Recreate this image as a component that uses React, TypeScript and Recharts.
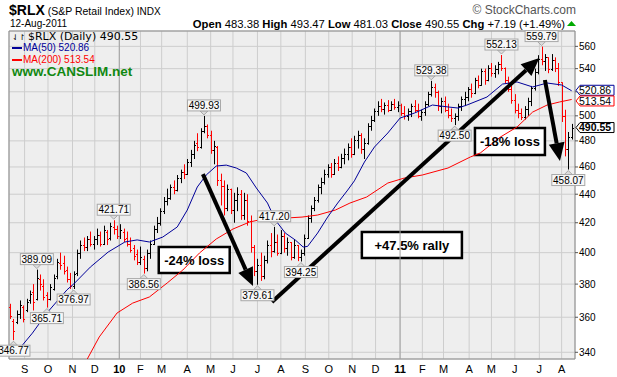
import React from "react";
import {
  ComposedChart,
  Bar,
  Line,
  XAxis,
  YAxis,
  CartesianGrid,
  ReferenceLine,
  ReferenceArea,
  ReferenceDot,
} from "recharts";

// one bar for every 3 sessions, session 0 = 13-Aug-2009
const highs = [
  368, 359, 364, 370, 367, 371, 376, 380, 389.09, 386,
  383, 375, 380, 386, 396, 400, 398, 391, 387, 388,
  402, 408, 410, 411, 414, 411, 416, 414, 418, 415,
  420, 421.71, 418, 419, 416, 414, 410, 405, 402, 404,
  398, 402, 408, 418, 424, 430, 438, 444, 447, 450,
  454, 458, 462, 466, 473, 480, 486, 490, 499.93, 493,
  488, 480, 476, 455, 450, 447, 444, 441, 445, 443,
  441, 440, 425, 405, 396, 400, 398, 408, 413, 417.2,
  412, 415, 413, 410, 407, 409, 405, 402, 412, 425,
  432, 438, 447, 452, 458, 462, 463, 466, 468, 470,
  474, 478, 482, 484, 488, 486, 482, 494, 500, 506,
  512, 514, 511, 513, 512, 514, 512, 510, 508, 506,
  510, 513, 510, 505, 512, 520, 529.38, 527, 521, 515,
  516, 510, 506, 502, 510, 516, 520, 524, 527, 532,
  534, 540, 540, 543, 545, 543, 546, 552.13, 541, 533,
  525, 518, 510, 506, 508, 515, 525, 540, 552, 559.79,
  553, 550, 553, 550, 545, 528, 505, 487, 493.47,
];
const lows = [
  359, 346.77, 356, 359, 357, 363, 368, 364, 370, 376,
  370, 365.71, 370, 376, 383, 389, 386, 381, 377, 376.97,
  385, 396, 401, 401, 404, 402, 405, 404, 405, 405,
  408, 412, 409, 409, 407, 404, 400, 395, 392, 392,
  386.56, 388, 396, 405, 413, 418, 426, 432, 436, 440,
  442, 448, 451, 454, 460, 466, 472, 474, 486, 482,
  470, 462, 446, 432, 425, 428, 426, 420, 428, 422,
  422, 418, 400, 385, 379.61, 382, 383, 393, 397, 400,
  398, 399, 400, 398, 395, 396, 394.5, 394.25, 398, 409,
  420, 428, 434, 440, 447, 452, 452, 454, 457, 459,
  462, 465, 467, 469, 474, 470, 466, 477, 488, 495,
  500, 503, 501, 503, 504, 505, 503, 500, 497, 496,
  499, 503, 498, 496, 500, 508, 516, 515, 504, 502,
  503, 498, 495, 492.5, 496, 504, 508, 512, 515, 518,
  523, 525, 526, 529, 533, 532, 535, 538, 527, 520,
  510, 502, 498, 496.6, 497, 500, 508, 521, 535, 543,
  538, 536, 538, 537, 525, 495, 468, 458.07, 481.03,
];
const opens = [
  366, 358, 357, 362, 366, 364, 370, 375, 371, 383,
  379, 373, 371, 377, 385, 393, 393, 389, 383, 379,
  387, 400, 405, 404, 409, 406, 409, 412, 406, 414,
  410, 417, 416, 411, 414, 410, 406, 403, 399, 394,
  396, 390, 400, 406, 416, 420, 428, 435, 437, 445,
  443, 452, 456, 455, 464, 470, 478, 475, 488, 492,
  485, 473, 475, 450, 446, 430, 444, 429, 436, 440,
  425, 436, 421, 404, 388, 392, 385, 395, 405, 401,
  407, 400, 411, 403, 407, 397, 405, 397, 400, 410,
  423, 430, 436, 445, 449, 455, 460, 455, 463, 460,
  467, 470, 475, 470, 481, 485, 474, 478, 492, 497,
  504, 508, 506, 509, 505, 510, 507, 509, 502, 500,
  504, 508, 505, 500, 503, 510, 518, 524, 520, 508,
  512, 505, 501, 498, 500, 508, 514, 516, 522, 519,
  530, 526, 538, 530, 541, 536, 540, 544, 541, 530,
  522, 513, 505, 502, 499, 506, 512, 523, 537, 549,
  547, 550, 540, 548, 541, 528, 500, 474, 483.38,
];
const closes = [
  361, 352, 362, 367, 359, 369, 374, 369, 384, 380,
  372, 371, 378, 384, 394, 392, 388, 383, 379, 386,
  400, 405, 404, 409, 406, 409, 412, 406, 415, 409,
  418, 416, 411, 415, 409, 406, 402, 398, 394, 397,
  390, 400, 406, 416, 420, 428, 435, 437, 445, 443,
  452, 456, 455, 464, 470, 477, 475, 488, 492, 485,
  473, 476, 450, 446, 430, 444, 429, 436, 440, 425,
  436, 421, 404, 388, 392, 385, 395, 405, 401, 407,
  400, 411, 403, 407, 397, 405, 397, 400, 410, 423,
  430, 436, 445, 449, 455, 460, 455, 463, 460, 467,
  470, 475, 470, 481, 485, 474, 478, 492, 497, 504,
  508, 506, 509, 505, 510, 507, 509, 502, 500, 504,
  508, 505, 500, 503, 510, 518, 524, 520, 508, 512,
  505, 501, 498, 500, 508, 514, 516, 522, 519, 530,
  526, 538, 530, 541, 536, 540, 544, 541, 530, 522,
  513, 505, 502, 499, 506, 512, 523, 537, 549, 547,
  550, 540, 548, 541, 528, 500, 474, 483.36, 490.55,
];

const ma50Days = [
  3, 20, 33, 43, 51, 58, 72, 88, 103, 114, 125, 137, 150, 159, 168, 176,
  185, 194, 203, 212, 221, 231, 238, 247, 256, 263, 267, 276, 285, 294,
  303, 309, 318, 327, 339, 350, 363, 379, 393, 402, 410, 428, 442, 455,
  469, 482, 495, 504,
];
const ma50Values = [
  338, 350.8, 362.5, 370.2, 376.4, 380.7, 390.7, 400.4, 407, 408.4, 407,
  410.3, 417.1, 428.8, 445.2, 454, 460.7, 461.4, 459.2, 455.5, 444.5,
  433.7, 421.9, 413, 408.3, 403.7, 404.1, 413, 423.9, 433.7, 443, 449.7,
  463.7, 475.2, 486.2, 498.2, 502.3, 508.9, 507.3, 506.4, 508.9, 515.6,
  526.6, 528.4, 524.1, 527.5, 525.8, 520.86,
];
const ma200Days = [
  69, 80, 96, 110, 125, 141, 155, 170, 185, 200, 215, 231, 247, 262, 276,
  292, 305, 320, 339, 354, 370, 393, 413, 422, 440, 455, 469, 482, 493, 504,
];
const ma200Values = [
  336, 348.6, 362.5, 368.4, 372.1, 380.7, 388.8, 399.8, 409, 415.7, 420.5,
  423.2, 423.2, 423.9, 425.3, 428.8, 433.7, 438, 448.1, 451.8, 454, 459.2,
  467.5, 470.6, 483, 491, 503.1, 508.9, 511.4, 513.54,
];

const monthDays = [13, 34, 56, 76, 98, 117, 136, 159, 180, 200, 222, 243, 265, 286, 307, 328, 350, 370, 389, 412, 432, 453, 475, 495];
const monthLabels = ["S", "O", "N", "D", "10", "F", "M", "A", "M", "J", "J", "A", "S", "O", "N", "D", "11", "F", "M", "A", "M", "J", "J", "A"];
const yearDays = [98, 350];
const priceTicks = [340, 360, 380, 400, 420, 440, 460, 480, 500, 520, 540, 560];
// the 520 label sits under the MA value tags
const hiddenTickLabels = [520];

const calloutDays = [3, 24, 33, 57, 93, 120, 174, 222, 237, 261, 378, 399, 441, 477, 501];
const calloutValues = [346.77, 389.09, 365.71, 376.97, 421.71, 386.56, 499.93, 379.61, 417.2, 394.25, 529.38, 492.5, 552.13, 559.79, 458.07];
const calloutSides = ["low", "high", "low", "low", "high", "low", "high", "low", "high", "low", "high", "low", "high", "high", "low"];

// hand-drawn annotations, in (session, price)
const arrowFrom = [[173, 454.7], [235, 369.1], [480, 530.1]];
const arrowTo = [[218, 378.8], [475, 549.4], [493.5, 464.5]];
const noteText = ["-24% loss", "+47.5% rally", "-18% loss"];
const noteDays = [[133.4, 197.1], [315.7, 405.5], [417.2, 480]];
const notePrices = [[386.9, 403.7], [396.5, 413.7], [469.1, 490.2]];

const bars = highs.map((h, i) => ({
  day: i * 3,
  range: [lows[i], h],
  high: h,
  low: lows[i],
  open: opens[i],
  close: closes[i],
  up: closes[i] >= (i > 0 ? closes[i - 1] : opens[i]),
}));
const ma50 = ma50Days.map((d, i) => ({ day: d, ma: ma50Values[i] }));
const ma200 = ma200Days.map((d, i) => ({ day: d, ma: ma200Values[i] }));

const FONT = "'Liberation Sans', Arial, sans-serif";

const OhlcBar = (props: any) => {
  const { x, y, width, height, payload } = props;
  if (x == null || y == null || !payload) return null;
  const top = Math.min(y, y + height);
  const h = Math.abs(height);
  const cx = Math.round(x + width / 2) + 0.5;
  const lh = Math.log(payload.high);
  const span = lh - Math.log(payload.low) || 1;
  const at = (v: number) => Math.round(top + (h * (lh - Math.log(v))) / span) + 0.5;
  const color = payload.up ? "#000000" : "#ff0000";
  return (
    <g stroke={color} strokeWidth={1}>
      <line x1={cx} x2={cx} y1={top} y2={top + h} />
      <line x1={cx - 1.5} x2={cx} y1={at(payload.open)} y2={at(payload.open)} />
      <line x1={cx} x2={cx + 1.5} y1={at(payload.close)} y2={at(payload.close)} />
    </g>
  );
};

const MonthTick = (props: any) => {
  const { x, y, payload } = props;
  const label = monthLabels[monthDays.indexOf(payload.value)] ?? "";
  const isYear = /\d/.test(label);
  return (
    <text x={x} y={y} dy={6} textAnchor="middle" fontSize={11} fontFamily={FONT} fontWeight={isYear ? "bold" : "normal"} fill="#000">
      {label}
    </text>
  );
};

const PriceTick = (props: any) => {
  const { x, y, payload } = props;
  if (hiddenTickLabels.includes(payload.value)) return null;
  return (
    <text x={x} y={y} dy={3.5} textAnchor="start" fontSize={10} fontFamily={FONT} fill="#000">
      {payload.value}
    </text>
  );
};

const Arrow = (props: any) => {
  const { x1, y1, x2, y2 } = props;
  const a = Math.atan2(y2 - y1, x2 - x1);
  const len = 18;
  const half = 8;
  const bx = x2 - len * Math.cos(a);
  const by = y2 - len * Math.sin(a);
  const px = -Math.sin(a) * half;
  const py = Math.cos(a) * half;
  return (
    <g>
      <line x1={x1} y1={y1} x2={bx} y2={by} stroke="#000" strokeWidth={4} />
      <polygon points={`${x2},${y2} ${bx + px},${by + py} ${bx - px},${by - py}`} fill="#000" />
    </g>
  );
};

const Callout = ({ cx, cy, text, side }: any) => {
  const w = 33;
  const h = 11;
  const gap = 5;
  const boxY = side === "high" ? cy - gap - h : cy + gap;
  const edge = side === "high" ? cy - gap : cy + gap;
  const tip = side === "high" ? cy - 1 : cy + 1;
  return (
    <g>
      <polygon points={`${cx - 4},${edge} ${cx + 4},${edge} ${cx},${tip}`} fill="#dddddd" stroke="#999999" strokeWidth={0.8} />
      <rect x={cx - w / 2} y={boxY} width={w} height={h} fill="#f7f7f7" stroke="#a8a8a8" strokeWidth={1} />
      <text x={cx} y={boxY + h / 2 + 3.5} textAnchor="middle" fontSize={10} fontFamily={FONT} fill="#000">
        {text}
      </text>
    </g>
  );
};

const ValueTag = ({ cx, cy, text, color, bold, shift }: any) => {
  const c = cy + (shift || 0);
  const h = 10;
  return (
    <g>
      <polygon
        points={`${cx + 1},${c} ${cx + 5},${c - h / 2} ${cx + 39},${c - h / 2} ${cx + 39},${c + h / 2} ${cx + 5},${c + h / 2}`}
        fill="#ffffff"
        stroke={color}
        strokeWidth={1}
      />
      <text x={cx + 4} y={c + 3.8} fontSize={10.5} fontFamily={FONT} fontWeight={bold ? "bold" : "normal"} fill="#000">
        {text}
      </text>
    </g>
  );
};

export default function App() {
  return (
    <div style={{ position: "absolute", left: 0, top: 0, width: 617, height: 377, background: "#fff", fontFamily: FONT, color: "#000" }}>
      <ComposedChart width={617} height={377} data={bars} margin={{ top: 31, right: 0, bottom: 0, left: 9 }}>
        <CartesianGrid fill="#eeeeee" stroke="#cdcdcd" />
        <XAxis
          dataKey="day"
          type="number"
          domain={[-1, 507]}
          ticks={monthDays}
          interval={0}
          tick={<MonthTick />}
          tickLine={false}
          axisLine={false}
          height={18}
          allowDataOverflow
        />
        <YAxis
          orientation="right"
          type="number"
          scale="log"
          domain={[336.3, 574.2]}
          ticks={priceTicks}
          interval={0}
          allowDataOverflow
          width={42}
          tickSize={3}
          tickMargin={1}
          axisLine={false}
          tickLine={{ stroke: "#555" }}
          tick={<PriceTick />}
        />
        {yearDays.map((d) => (
          <ReferenceLine key={d} x={d} stroke="#a0a0a0" />
        ))}
        <Line data={ma200} dataKey="ma" stroke="#ff0000" strokeWidth={1} dot={false} isAnimationActive={false} />
        <Line data={ma50} dataKey="ma" stroke="#000099" strokeWidth={1} dot={false} isAnimationActive={false} />
        <Bar dataKey="range" barSize={3} shape={<OhlcBar />} isAnimationActive={false} />
        {calloutDays.map((d, i) => (
          <ReferenceDot
            key={`c${i}`}
            x={d}
            y={calloutValues[i]}
            r={0}
            ifOverflow="visible"
            shape={(p: any) => <Callout cx={p.cx} cy={p.cy} text={calloutValues[i].toFixed(2)} side={calloutSides[i]} />}
          />
        ))}
        {noteText.map((t, i) => (
          <ReferenceArea
            key={`n${i}`}
            x1={noteDays[i][0]}
            x2={noteDays[i][1]}
            y1={notePrices[i][0]}
            y2={notePrices[i][1]}
            fill="#ffffff"
            fillOpacity={1}
            stroke="#000"
            strokeWidth={2.5}
            strokeOpacity={1}
            ifOverflow="visible"
            label={{ value: t, position: "center", fill: "#000", fontSize: 13, fontWeight: "bold", fontFamily: FONT }}
          />
        ))}
        {arrowFrom.map((f, i) => (
          <ReferenceLine
            key={`a${i}`}
            segment={[{ x: f[0], y: f[1] }, { x: arrowTo[i][0], y: arrowTo[i][1] }]}
            ifOverflow="visible"
            shape={<Arrow />}
          />
        ))}
        <ReferenceArea x1={-1} x2={507} y1={336.3} y2={574.2} fill="none" stroke="#8c8c8c" strokeWidth={1} ifOverflow="visible" />
        <ReferenceDot x={507} y={520.86} r={0} ifOverflow="visible" shape={(p: any) => <ValueTag cx={p.cx} cy={p.cy} text="520.86" color="#000099" shift={-0.5} />} />
        <ReferenceDot x={507} y={513.54} r={0} ifOverflow="visible" shape={(p: any) => <ValueTag cx={p.cx} cy={p.cy} text="513.54" color="#ff0000" shift={1.5} />} />
        <ReferenceDot x={507} y={490.55} r={0} ifOverflow="visible" shape={(p: any) => <ValueTag cx={p.cx} cy={p.cy} text="490.55" color="#000" bold />} />
      </ComposedChart>

      {/* header */}
      <div style={{ position: "absolute", left: 9, top: 2, whiteSpace: "nowrap", lineHeight: 1 }}>
        <span style={{ fontSize: 14, fontWeight: "bold" }}>$RLX</span>
        <span style={{ fontSize: 10.5 }}> (S&amp;P Retail Index) </span>
        <span style={{ fontSize: 10 }}>INDX</span>
      </div>
      <div style={{ position: "absolute", left: 10, top: 19, fontSize: 10, whiteSpace: "nowrap", lineHeight: 1 }}>12-Aug-2011</div>
      <div style={{ position: "absolute", right: 41, top: 4, fontSize: 12, color: "#555", whiteSpace: "nowrap", lineHeight: 1 }}>© StockCharts.com</div>
      <div style={{ position: "absolute", right: 52, top: 19, fontSize: 11.25, whiteSpace: "nowrap", lineHeight: 1 }}>
        <b>Open</b> 483.38 <b>High</b> 493.47 <b>Low</b> 481.03 <b>Close</b> 490.55 <b>Chg</b> +7.19 (+1.49%)
      </div>
      <svg style={{ position: "absolute", left: 567, top: 21 }} width={9} height={6}>
        <polygon points="0,5 4.5,0 9,5" fill="#00aa00" />
      </svg>

      {/* in-chart legend */}
      <div style={{ position: "absolute", left: 12, top: 30.5, fontSize: 11, fontFamily: "'DejaVu Sans', Verdana, sans-serif", whiteSpace: "nowrap", lineHeight: 1 }}>
        <span style={{ fontSize: 8 }}>⇃↾ </span>$RLX (Daily) 490.55
      </div>
      <div style={{ position: "absolute", left: 12, top: 43, fontSize: 10, color: "#000099", whiteSpace: "nowrap", lineHeight: 1 }}>
        <span style={{ display: "inline-block", width: 10, height: 2, background: "#000099", verticalAlign: "middle", marginRight: 1 }} />MA(50) 520.86
      </div>
      <div style={{ position: "absolute", left: 12, top: 54.5, fontSize: 10, color: "#ff0000", whiteSpace: "nowrap", lineHeight: 1 }}>
        <span style={{ display: "inline-block", width: 10, height: 2, background: "#ff0000", verticalAlign: "middle", marginRight: 1 }} />MA(200) 513.54
      </div>
      <div style={{ position: "absolute", left: 12, top: 65, fontSize: 13.5, fontWeight: "bold", color: "#118811", whiteSpace: "nowrap", lineHeight: 1 }}>
        www.CANSLIM.net
      </div>
    </div>
  );
}
